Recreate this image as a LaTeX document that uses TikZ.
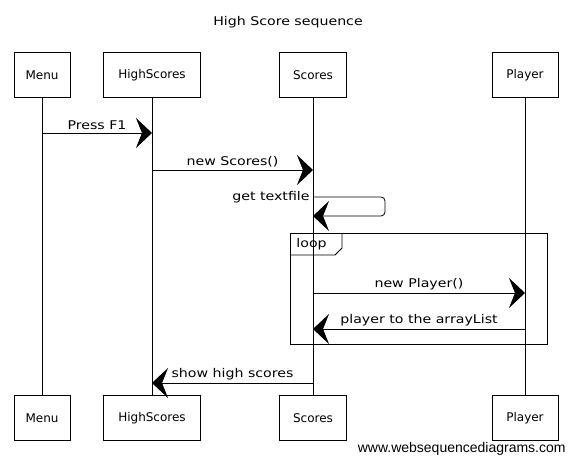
\documentclass[tikz,border=0pt]{standalone}
\usepackage{fontspec}
\setmainfont{DejaVu Sans}
\newfontfamily\handfont[FakeStretch=1.18]{DejaVu Sans}
\newfontfamily\wsdfont{Liberation Sans}
\usetikzlibrary{arrows.meta, positioning}

\begin{document}
\begin{tikzpicture}[x=1pt, y=-1pt, line width=0.8pt,
    actor/.style={draw, minimum height=45pt, inner sep=0pt, font=\fontsize{12}{14}\selectfont},
    lifeline/.style={line width=0.6pt},
    msg/.style={-{Stealth[length=16pt, width=30pt, inset=6pt]}},
    msglabel/.style={font=\handfont\fontsize{12}{14}\selectfont, inner sep=3pt}]
  \useasboundingbox (0,0) rectangle (574,465);

  % Title
  \node[font=\handfont\fontsize{12}{14}\selectfont] (title) at (288,22) {High Score sequence};

  % Actors on top
  \node[actor, minimum width=56pt] (menuT) at (42,75) {Menu};
  \node[actor, minimum width=97pt] (hsT) at (152,75) {HighScores};
  \node[actor, minimum width=67pt] (scT) at (313,75) {Scores};
  \node[actor, minimum width=66pt] (plT) at (525,75) {Player};

  % Actors at the bottom
  \node[actor, minimum width=56pt] (menuB) at (42,418) {Menu};
  \node[actor, minimum width=97pt] (hsB) at (152,418) {HighScores};
  \node[actor, minimum width=67pt] (scB) at (313,418) {Scores};
  \node[actor, minimum width=66pt] (plB) at (525,418) {Player};

  % Lifelines
  \draw[lifeline] (menuT.south) -- (menuB.north);
  \draw[lifeline] (hsT.south) -- (hsB.north);
  \draw[lifeline] (scT.south) -- (scB.north);
  \draw[lifeline] (plT.south) -- (plB.north);

  % Messages
  \draw[msg] (menuT.south |- 0,133) -- node[msglabel, above] {Press F1} (hsT.south |- 0,133);
  \draw[msg] (hsT.south |- 0,170) -- node[msglabel, above] {new Scores()} (scT.south |- 0,170);

  % Self call
  \draw[msg, rounded corners=4pt] (scT.south |- 0,197) node[msglabel, left] {get textfile}
    -- (385,197) -- (385,216) -- (scT.south |- 0,216);

  % Loop frame
  \draw (290,233) rectangle (547,344);
  \draw (290,255) -- (335,255) -- (342,248) -- (342,233);
  \node[msglabel, anchor=west] (looplbl) at (293,244) {loop};

  \draw[msg] (scT.south |- 0,293) -- node[msglabel, above] {new Player()} (plT.south |- 0,293);
  \draw[msg] (plT.south |- 0,329) -- node[msglabel, above] {player to the arrayList} (scT.south |- 0,329);

  \draw[msg] (scT.south |- 0,383) -- node[msglabel, above] {show high scores} (hsT.south |- 0,383);

  % Credit
  \node[font=\wsdfont\fontsize{14}{16}\selectfont, anchor=east, inner sep=0pt] (credit) at (566,449) {www.websequencediagrams.com};
\end{tikzpicture}
\end{document}
